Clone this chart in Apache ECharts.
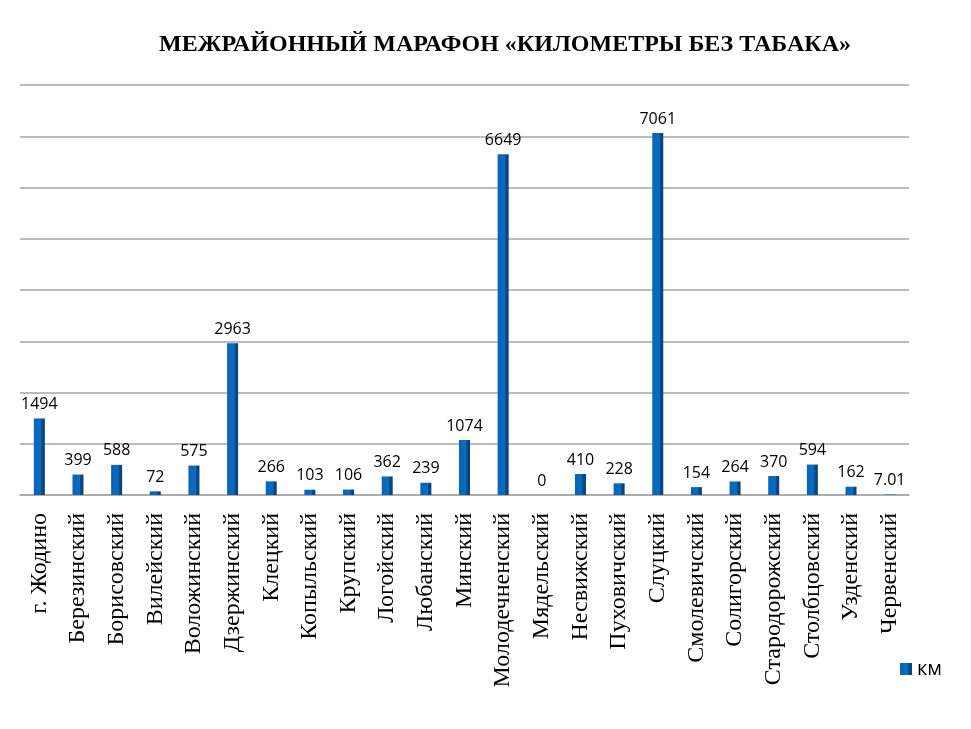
<!DOCTYPE html>
<html>
<head>
    <meta charset="utf-8">
    <title>Километры без табака</title>
    <script src="https://cdn.jsdelivr.net/npm/echarts@6/dist/echarts.min.js"></script>
    <style>
        html, body { margin: 0; padding: 0; background: #fff; }
        #chart { width: 971px; height: 729px; }
    </style>
</head>
<body>
<div id="chart"></div>
<script type="text/javascript">
    // районы
    var districts = ['г. Жодино', 'Березинский', 'Борисовский', 'Вилейский', 'Воложинский', 'Дзержинский',
        'Клецкий', 'Копыльский', 'Крупский', 'Логойский', 'Любанский', 'Минский', 'Молодечненский',
        'Мядельский', 'Несвижский', 'Пуховичский', 'Слуцкий', 'Смолевичский', 'Солигорский',
        'Стародорожский', 'Столбцовский', 'Узденский', 'Червенский'];
    // километры
    var km = [1494, 399, 588, 72, 575, 2963, 266, 103, 106, 362, 239, 1074, 6649,
        0, 410, 228, 7061, 154, 264, 370, 594, 162, 7.01];

    var myChart = echarts.init(document.getElementById('chart'));
    myChart.setOption({
        animation: false,
        title: {
            text: 'МЕЖРАЙОННЫЙ МАРАФОН «КИЛОМЕТРЫ БЕЗ ТАБАКА»',
            left: 500,
            textAlign: 'center',
            top: 28,
            textStyle: {
                fontFamily: 'Liberation Serif',
                fontWeight: 'bold',
                fontSize: 24,
                color: '#000'
            }
        },
        legend: {
            data: ['км'],
            right: 24,
            top: 654,
            itemWidth: 12,
            itemHeight: 12,
            icon: 'rect',
            itemGap: 7,
            textStyle: { fontFamily: 'Open Sans', fontSize: 20, color: '#000' }
        },
        grid: { left: 20, right: 62, top: 85, bottom: 234 },
        xAxis: {
            type: 'category',
            data: districts,
            axisLine: { show: true, lineStyle: { color: '#a6a6a6', width: 1.5 } },
            axisTick: { show: false },
            axisLabel: {
                rotate: 90,
                interval: 0,
                margin: 18,
                fontFamily: 'Liberation Serif',
                fontSize: 24,
                color: '#000'
            }
        },
        yAxis: {
            type: 'value',
            min: 0,
            max: 8000,
            interval: 1000,
            axisLabel: { show: false },
            axisLine: { show: false },
            axisTick: { show: false },
            splitLine: { show: true, lineStyle: { color: '#a6a6a6', width: 1.5 } }
        },
        series: [{
            name: 'км',
            type: 'bar',
            barWidth: 11,
            data: km,
            itemStyle: {
                color: new echarts.graphic.LinearGradient(0, 0, 1, 0, [
                    { offset: 0, color: '#0a64b4' },
                    { offset: 0.65, color: '#0a6cc2' },
                    { offset: 0.7, color: '#0a4f8f' },
                    { offset: 1, color: '#083f74' }
                ])
            },
            label: {
                show: true,
                position: 'top',
                distance: 6,
                fontFamily: 'Open Sans',
                fontSize: 16,
                color: '#000'
            }
        }]
    });
</script>
</body>
</html>
